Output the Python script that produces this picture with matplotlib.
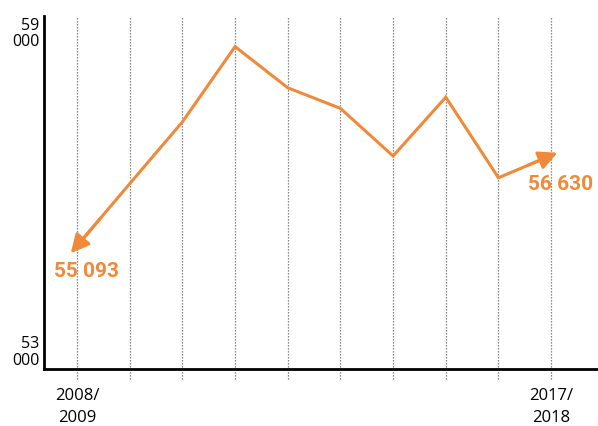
import matplotlib.pyplot as plt
from matplotlib.patches import FancyArrowPatch
import matplotlib.transforms as mtransforms

seasons = ['2008/\n2009', '2009/\n2010', '2010/\n2011', '2011/\n2012', '2012/\n2013',
           '2013/\n2014', '2014/\n2015', '2015/\n2016', '2016/\n2017', '2017/\n2018']
values = [55093, 56150, 57200, 58480, 57780, 57430, 56620, 57620, 56250, 56630]
y_labels = ['53\n000', '59\n000']
y_min, y_max = 53000, 59000

orange = '#F08A3A'

fig = plt.figure(figsize=(5.98, 4.26), dpi=100)
ax = fig.add_axes([44 / 598, 1 - 369 / 426, 554 / 598, 353 / 426])

x = list(range(len(values)))
ax.set_xlim(-0.627, len(values) - 1 + 0.89)
ax.set_ylim(y_min, y_max)

# dotted verticals running a little below the axis
trans = mtransforms.blended_transform_factory(ax.transData, ax.transAxes)
ax.vlines(x, -0.027, 1, transform=trans, colors='#666666', linestyles=(0, (1, 1.4)),
          linewidth=0.9, clip_on=False, zorder=1)

ax.plot(x, values, color=orange, lw=2.2, zorder=3, solid_joinstyle='miter')

# arrowheads at both ends
for a, b in [(1, 0), (8, 9)]:
    dx = x[b] - x[a]
    dy = values[b] - values[a]
    arr = FancyArrowPatch((x[a] + 0.55 * dx, values[a] + 0.55 * dy),
                          (x[b] + 0.12 * dx, values[b] + 0.12 * dy),
                          arrowstyle='-|>,head_length=0.8,head_width=0.4',
                          mutation_scale=14, color=orange, lw=2.2,
                          shrinkA=0, shrinkB=0, zorder=4)
    ax.add_patch(arr)

ax.text(x[0] + 0.18, values[0] - 430, '55 093', color=orange, fontsize=15,
        fontweight='bold', family='Roboto', ha='center', va='center')
ax.text(x[-1] + 0.18, values[-1] - 500, '56 630', color=orange, fontsize=15,
        fontweight='bold', family='Roboto', ha='center', va='center')

for sp in ['top', 'right']:
    ax.spines[sp].set_visible(False)
for sp in ['left', 'bottom']:
    ax.spines[sp].set_linewidth(2)
    ax.spines[sp].set_color('black')

ax.set_yticks([])
ax.set_xticks([])

ax.text(-0.008, 0.0, y_labels[0], transform=ax.transAxes, ha='right', va='bottom',
        fontsize=11.5, family='Open Sans', linespacing=1.05)
ax.text(-0.008, 0.995, y_labels[1], transform=ax.transAxes, ha='right', va='top',
        fontsize=11.5, family='Open Sans', linespacing=1.05)

for i in [0, len(seasons) - 1]:
    ax.text(x[i], -0.055, seasons[i], transform=trans, ha='center', va='top',
            fontsize=12, family='Open Sans', linespacing=1.45)

fig.savefig('out.png', dpi=100)
